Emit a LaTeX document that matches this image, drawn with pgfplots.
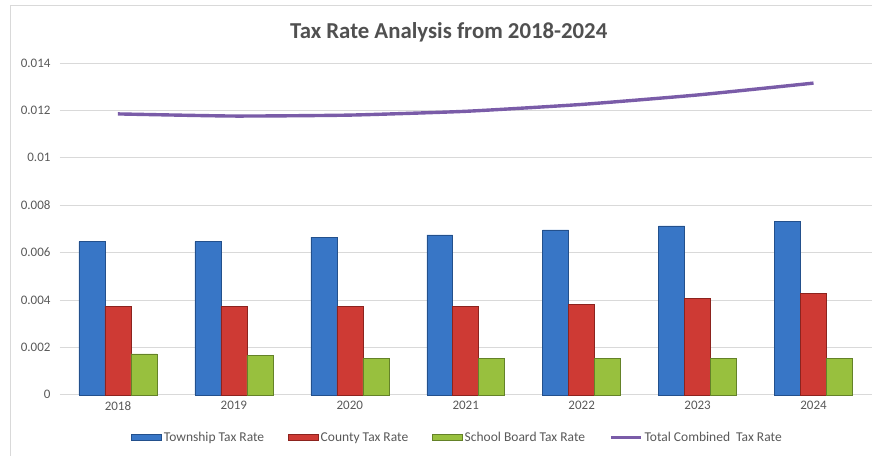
\documentclass[border=0pt]{standalone}
\usepackage{pgfplots}
\pgfplotsset{compat=1.18}
\usepackage{fontspec}
\setmainfont{Carlito}
\definecolor{gridgray}{RGB}{217,217,217}
\definecolor{labgray}{RGB}{89,89,89}
\definecolor{titlegray}{RGB}{80,80,80}
\definecolor{tblue}{RGB}{56,118,198}
\definecolor{tblueedge}{RGB}{35,80,140}
\definecolor{tred}{RGB}{206,58,52}
\definecolor{trededge}{RGB}{140,35,30}
\definecolor{tgreen}{RGB}{152,192,62}
\definecolor{tgreenedge}{RGB}{100,130,40}
\definecolor{lpurple}{RGB}{122,92,168}
\pgfplotsset{
  barleg/.style={legend image code/.code={\draw[##1,/tikz/.cd] (0pt,-3pt) rectangle (30pt,3pt);}},
  lineleg/.style={legend image code/.code={\draw[##1,/tikz/.cd] (0pt,0pt) -- (30pt,0pt);}},
}
\begin{document}
\begin{tikzpicture}
\begin{axis}[
  at={(0pt,0pt)}, anchor=south west,
  scale only axis, width=812pt, height=332pt,
  xmin=-0.5, xmax=6.5, ymin=0, ymax=0.014,
  scaled y ticks=false,
  xtick={0,1,2,3,4,5,6},
  xticklabels={2018,2019,2020,2021,2022,2023,2024},
  ytick={0,0.002,0.004,0.006,0.008,0.01,0.012,0.014},
  yticklabels={0,0.002,0.004,0.006,0.008,0.01,0.012,0.014},
  /pgf/number format/assume math mode=true,
  major tick length=0pt,
  axis line style={draw=none},
  ymajorgrids, grid style={gridgray, line width=0.8pt},
  tick label style={font=\fontsize{13}{15}\selectfont, text=labgray},
  yticklabel style={xshift=-6pt},
  xticklabel style={yshift=-3pt},
  legend style={at={(0.490,-0.1295)}, anchor=center, legend columns=4, draw=none,
    font=\fontsize{13.5}{15}\selectfont, text=labgray,
    nodes={inner xsep=2pt},
    /tikz/every even column/.append style={column sep=22pt}},
  clip=false,
]
\addplot[ybar, bar width=26pt, bar shift=-26pt, draw=tblueedge, line width=0.5pt,
  fill=tblue, barleg]
  coordinates {(0,0.00646) (1,0.00646) (2,0.00665) (3,0.00675) (4,0.00696) (5,0.00713) (6,0.00731)};
\addlegendentry{Township Tax Rate}
\addplot[ybar, bar width=26pt, bar shift=0pt, draw=trededge, line width=0.5pt,
  fill=tred, barleg]
  coordinates {(0,0.00373) (1,0.00373) (2,0.00373) (3,0.00373) (4,0.00380) (5,0.00408) (6,0.00429)};
\addlegendentry{County Tax Rate}
\addplot[ybar, bar width=26pt, bar shift=26pt, draw=tgreenedge, line width=0.5pt,
  fill=tgreen, barleg]
  coordinates {(0,0.00173) (1,0.00165) (2,0.00155) (3,0.00155) (4,0.00155) (5,0.00155) (6,0.00155)};
\addlegendentry{School Board Tax Rate}
\addplot[lpurple, line width=3.4pt, smooth, tension=0.3, mark=none, lineleg]
  coordinates {(0,0.01185) (1,0.01176) (2,0.01180) (3,0.01196) (4,0.01225) (5,0.01265) (6,0.01315)};
\addlegendentry{Total Combined\ \ Tax Rate}
\end{axis}
\draw[color=gridgray, line width=1pt] (-49.5pt,-61pt) -- (-49.5pt,389pt) -- (812pt,389pt);
\node[font=\fontsize{22.8}{27}\selectfont\bfseries, text=titlegray] at (389pt,363pt) {Tax Rate Analysis from 2018-2024};
\useasboundingbox (-60pt,-61pt) rectangle (812pt,395pt);
\end{tikzpicture}
\end{document}
